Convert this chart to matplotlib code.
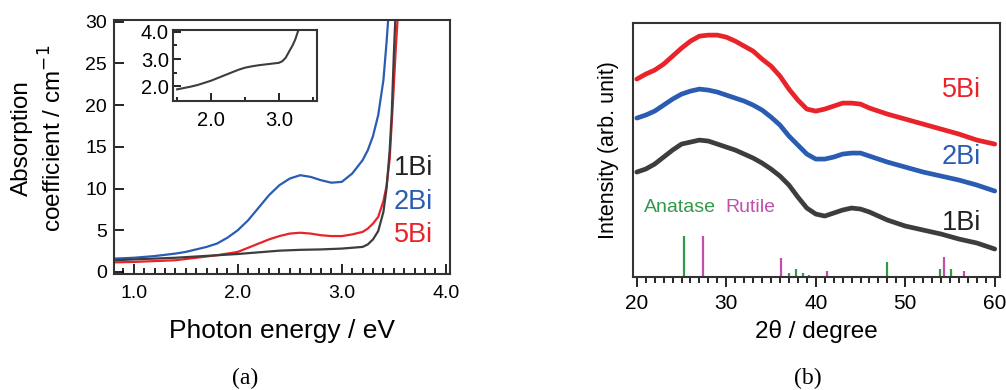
import numpy as np
import matplotlib
matplotlib.use("Agg")
import matplotlib.pyplot as plt

plt.rcParams['font.family'] = ['Liberation Sans', 'DejaVu Sans']

# ---- (a) absorption spectra ----
e_2bi = [0.82, 1.0, 1.2, 1.4, 1.5, 1.6, 1.7, 1.8, 1.9, 2.0, 2.1, 2.2, 2.3, 2.4, 2.5, 2.6,
         2.7, 2.8, 2.9, 3.0, 3.1, 3.2, 3.25, 3.3, 3.35, 3.4, 3.43, 3.45]
a_2bi = [1.6, 1.7, 1.9, 2.2, 2.4, 2.7, 3.0, 3.4, 4.1, 5.0, 6.2, 7.7, 9.2, 10.4, 11.2, 11.6,
         11.4, 11.0, 10.7, 10.8, 11.8, 13.4, 14.6, 16.3, 18.8, 23.0, 27.5, 31.0]

e_5bi = [0.82, 1.0, 1.2, 1.4, 1.6, 1.8, 1.9, 2.0, 2.1, 2.2, 2.3, 2.4, 2.5, 2.6, 2.7, 2.8,
         2.9, 3.0, 3.1, 3.2, 3.25, 3.3, 3.35, 3.4, 3.43, 3.46, 3.49, 3.52, 3.54]
a_5bi = [1.15, 1.2, 1.3, 1.4, 1.7, 2.0, 2.2, 2.4, 2.9, 3.4, 3.9, 4.3, 4.6, 4.7, 4.6, 4.4,
         4.3, 4.3, 4.5, 4.8, 5.2, 5.8, 6.6, 8.5, 10.3, 13.5, 20.0, 27.0, 31.0]

e_1bi = [0.82, 1.0, 1.2, 1.4, 1.6, 1.8, 2.0, 2.2, 2.4, 2.6, 2.8, 3.0, 3.1, 3.2, 3.25, 3.3,
         3.35, 3.4, 3.43, 3.46, 3.48, 3.5, 3.52]
a_1bi = [1.4, 1.5, 1.6, 1.7, 1.85, 2.0, 2.15, 2.35, 2.55, 2.65, 2.7, 2.8, 2.9, 3.0, 3.3, 3.9,
         4.9, 7.2, 10.0, 14.5, 19.0, 26.0, 32.0]

# inset (1Bi, magnified)
e_inset = [1.5, 1.6, 1.7, 1.8, 1.9, 2.0, 2.1, 2.2, 2.3, 2.4, 2.5, 2.6, 2.7, 2.8, 2.9, 3.0,
           3.05, 3.1, 3.15, 3.2, 3.24, 3.28]
a_inset = [1.88, 1.93, 1.98, 2.04, 2.12, 2.2, 2.3, 2.4, 2.5, 2.6, 2.68, 2.73, 2.77, 2.8, 2.83, 2.86,
           2.92, 3.05, 3.28, 3.5, 3.72, 4.02]

# ---- (b) XRD patterns (offset, arb. unit) ----
two_theta = [20, 21, 22, 23, 24, 25, 26, 27, 28, 29, 30, 31, 32, 33, 34, 35, 36, 37, 38, 39,
             40, 41, 42, 43, 44, 45, 46, 48, 50, 52, 54, 56, 58, 60]
xrd_5bi = [198, 203, 207, 213, 221, 229, 236, 241, 242, 242, 240, 236, 231, 226, 218, 211, 201,
           188, 177, 168, 166, 168, 171, 174, 174, 173, 169, 163, 158, 153, 148, 143, 137, 133]
xrd_2bi = [159, 162, 166, 172, 178, 183, 186, 188, 187, 185, 182, 179, 176, 172, 167, 160, 152,
           141, 132, 123, 118, 118, 120, 123, 124, 124, 121, 115, 110, 105, 101, 97, 92, 86]
xrd_1bi = [105, 108, 113, 120, 127, 133, 135, 137, 136, 133, 130, 127, 123, 119, 114, 108, 101,
           92, 80, 69, 63, 61, 64, 67, 69, 68, 65, 57, 51, 47, 43, 38, 34, 28]

anatase_pos = [25.3, 37.0, 37.8, 38.6, 48.0, 53.9, 55.1]
anatase_int = [41, 4, 8, 4, 15, 8, 8]
rutile_pos = [27.4, 36.1, 39.2, 41.2, 44.0, 54.3, 56.6]
rutile_int = [41, 19, 2, 6, 1.5, 20, 6]

c_red = '#e8242a'
c_blue = '#2a5cb2'
c_black = '#3d3d3d'
c_green = '#2f9a48'
c_mag = '#c050aa'

fig = plt.figure(figsize=(10.06, 3.9), dpi=100)

# panel (a)
ax = fig.add_axes([0.1133, 0.2974, 0.334, 0.651])
ax.plot(e_2bi, a_2bi, color=c_blue, lw=1.6)
ax.plot(e_5bi, a_5bi, color=c_red, lw=1.6)
ax.plot(e_1bi, a_1bi, color=c_black, lw=1.6)
ax.set_xlim(0.81, 4.04)
ax.set_ylim(-0.25, 30.2)
ax.set_xticks([1.0, 2.0, 3.0, 4.0])
ax.set_xticklabels(['1.0', '2.0', '3.0', '4.0'])
ax.set_xticks(np.arange(0.9, 4.05, 0.1), minor=True)
ax.set_yticks([0, 5, 10, 15, 20, 25, 30])
ax.tick_params(direction='in', length=7, width=1.2, labelsize=14, pad=8)
ax.tick_params(axis='y', pad=5)
ax.tick_params(which='minor', direction='in', length=4, width=1.2)
for s in ax.spines.values():
    s.set_linewidth(1.5)
    s.set_color('#333333')
ax.set_xlabel('Photon energy / eV', fontsize=19, labelpad=12)
ax.set_ylabel('Absorption\ncoefficient / cm$^{-1}$', fontsize=17.5, linespacing=1.3)
ax.yaxis.set_label_coords(-0.141, 0.535)
ax.text(3.875, 12.5, '1Bi', color='#222222', fontsize=19.5, ha='right', va='center')
ax.text(3.875, 8.4, '2Bi', color=c_blue, fontsize=19.5, ha='right', va='center')
ax.text(3.875, 4.4, '5Bi', color=c_red, fontsize=19.5, ha='right', va='center')

# inset
ins = fig.add_axes([0.172, 0.741, 0.1431, 0.182])
ins.plot(e_inset, a_inset, color=c_black, lw=1.5)
ins.set_xlim(1.44, 3.56)
ins.set_ylim(1.45, 4.07)
ins.set_xticks([2.0, 3.0])
ins.set_xticklabels(['2.0', '3.0'])
ins.set_xticks([1.5, 2.5, 3.5], minor=True)
ins.set_yticks([2.0, 3.0, 4.0])
ins.set_yticklabels(['2.0', '3.0', '4.0'])
ins.set_yticks([2.5, 3.5], minor=True)
ins.tick_params(direction='in', length=6, width=1.2, labelsize=14.5, pad=3)
ins.tick_params(axis='x', pad=7)
ins.tick_params(which='minor', direction='in', length=3, width=1.2)
for s in ins.spines.values():
    s.set_linewidth(1.5)
    s.set_color('#333333')

# panel (b)
bx = fig.add_axes([0.629, 0.2897, 0.3648, 0.651])
bx.plot(two_theta, xrd_5bi, color=c_red, lw=3.4, solid_capstyle='round', solid_joinstyle='round')
bx.plot(two_theta, xrd_2bi, color=c_blue, lw=3.4, solid_capstyle='round', solid_joinstyle='round')
bx.plot(two_theta, xrd_1bi, color=c_black, lw=3.4, solid_capstyle='round', solid_joinstyle='round')
bx.vlines(anatase_pos, 0, anatase_int, color=c_green, lw=1.6)
bx.vlines(rutile_pos, 0, rutile_int, color=c_mag, lw=1.6)
bx.set_xlim(19.55, 60.56)
bx.set_ylim(0, 254)
bx.set_xticks([20, 30, 40, 50, 60])
bx.set_xticks(np.arange(21, 60, 1), minor=True)
bx.set_yticks([])
bx.tick_params(direction='out', length=7, width=1.2, labelsize=15, pad=5)
bx.tick_params(which='minor', direction='out', length=4, width=1.2)
for s in bx.spines.values():
    s.set_linewidth(1.5)
    s.set_color('#333333')
bx.set_xlabel('2θ / degree', fontsize=17.5, labelpad=5)
bx.set_ylabel('Intensity (arb. unit)', fontsize=15.5, labelpad=10)
bx.text(58.5, 187, '5Bi', color=c_red, fontsize=19.5, ha='right', va='center')
bx.text(58.5, 120, '2Bi', color=c_blue, fontsize=19.5, ha='right', va='center')
bx.text(58.5, 54, '1Bi', color='#222222', fontsize=19.5, ha='right', va='center')
bx.text(20.8, 70, 'Anatase', color=c_green, fontsize=14, ha='left', va='center')
bx.text(29.9, 70, 'Rutile', color=c_mag, fontsize=14, ha='left', va='center')

fig.text(245 / 1006, 1 - 378 / 390, '(a)', family='Liberation Serif', fontsize=17, ha='center', va='center')
fig.text(808 / 1006, 1 - 378 / 390, '(b)', family='Liberation Serif', fontsize=17, ha='center', va='center')

fig.savefig('out.png', dpi=100)
